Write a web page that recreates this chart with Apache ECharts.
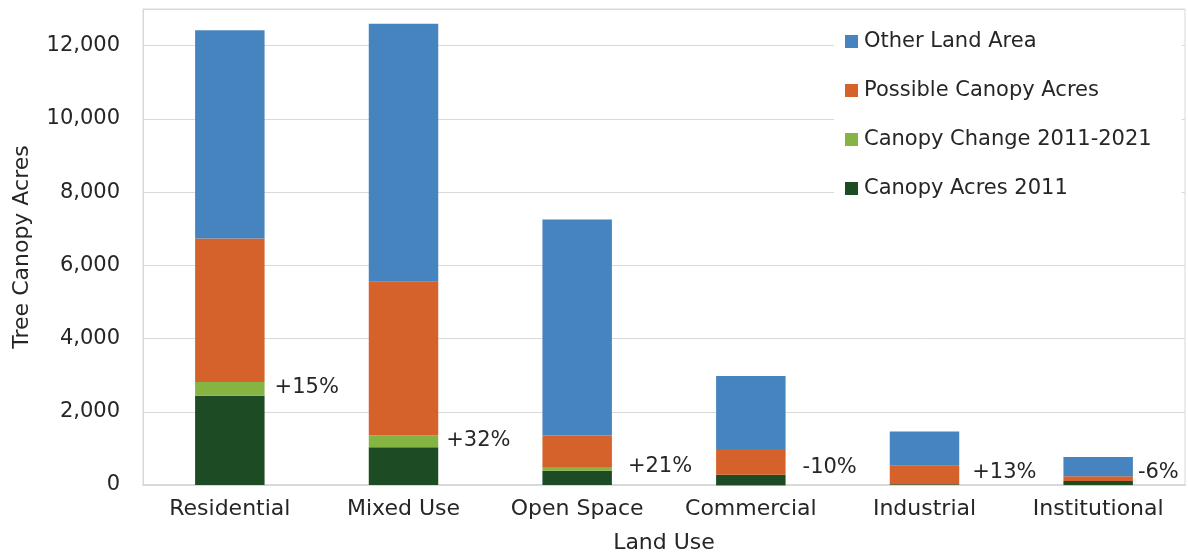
<!DOCTYPE html>
<html>
<head>
<meta charset="utf-8">
<script src="https://cdn.jsdelivr.net/npm/echarts@6/dist/echarts.min.js"></script>
<style>
  html, body { margin: 0; padding: 0; background: #fff; }
  #chart { width: 1188px; height: 555px; }
</style>
</head>
<body>
<div id="chart"></div>
<script>
// Land use categories
const landUses = ['Residential', 'Mixed Use', 'Open Space', 'Commercial', 'Industrial', 'Institutional'];

// Acres by land use (stacked from the bottom up)
const canopy2011 = [2440, 1030, 390, 280, 20, 110];
const canopyChange = [370, 330, 80, -28, 3, -7];
const possibleCanopy = [3920, 4190, 880, 700, 505, 130];
const otherLand = [5690, 7050, 5900, 2000, 930, 525];

// Percent change in canopy 2011-2021
const changePct = ['+15%', '+32%', '+21%', '-10%', '+13%', '-6%'];

// Y axis ticks
const yMin = 0, yMax = 13000, yStep = 2000;

// Nudges for the percent labels beside each bar [dx, dy]
const pctLabelNudge = [[5, -1], [3, -1], [11, -3], [12, -18], [8, -12], [0, -13]];

const FONT = 'DejaVu Sans';
const TEXT = '#262626';
const GRID = '#d9d9d9';

const chart = echarts.init(document.getElementById('chart'), null, { renderer: 'canvas' });

const barBase = {
  type: 'bar',
  stack: 'land',
  barWidth: '40%',
  emphasis: { disabled: true }
};

chart.setOption({
  animation: false,
  textStyle: { fontFamily: FONT, color: TEXT },
  grid: {
    left: 143, right: 3, top: 9, bottom: 70,
    containLabel: false,
    outerBoundsMode: 'none',
    show: true, borderColor: GRID, borderWidth: 1, backgroundColor: 'transparent'
  },
  legend: {
    orient: 'vertical',
    left: 834, top: 25,
    itemWidth: 13, itemHeight: 13, itemGap: 28,
    icon: 'rect',
    backgroundColor: '#fff',
    padding: [6, 30, 4, 11],
    textStyle: { fontFamily: FONT, fontSize: 21, color: TEXT, padding: [0, 0, 0, 1] },
    data: ['Other Land Area', 'Possible Canopy Acres', 'Canopy Change 2011-2021', 'Canopy Acres 2011']
  },
  xAxis: {
    type: 'category',
    data: landUses,
    name: 'Land Use',
    nameLocation: 'middle',
    nameGap: 47,
    nameTextStyle: { fontFamily: FONT, fontSize: 22, color: TEXT },
    axisLine: { lineStyle: { color: GRID, width: 2 } },
    axisTick: { show: false },
    axisLabel: { fontFamily: FONT, fontSize: 22, color: TEXT, margin: 13 }
  },
  yAxis: {
    type: 'value',
    min: yMin, max: yMax, interval: yStep,
    name: 'Tree Canopy Acres',
    nameLocation: 'middle',
    nameGap: 110,
    nameTextStyle: { fontFamily: FONT, fontSize: 22, color: TEXT },
    axisLine: { show: true, lineStyle: { color: GRID, width: 1 } },
    splitLine: { lineStyle: { color: GRID, width: 1 } },
    axisLabel: {
      fontFamily: FONT, fontSize: 21, color: TEXT, margin: 23,
      formatter: v => (v > 12000 ? '' : v.toLocaleString('en-US'))
    }
  },
  series: [
    Object.assign({}, barBase, {
      name: 'Canopy Acres 2011',
      data: canopy2011,
      itemStyle: { color: '#1c4b24' }
    }),
    Object.assign({}, barBase, {
      name: 'Canopy Change 2011-2021',
      data: canopyChange.map((v, i) => ({
        value: v,
        label: { offset: pctLabelNudge[i] }
      })),
      clip: false,
      itemStyle: { color: '#86b443' },
      label: {
        show: true,
        position: 'right',
        distance: 5,
        fontFamily: FONT,
        fontSize: 21,
        color: TEXT,
        formatter: p => changePct[p.dataIndex]
      }
    }),
    Object.assign({}, barBase, {
      name: 'Possible Canopy Acres',
      data: possibleCanopy,
      itemStyle: { color: '#d5612b' }
    }),
    Object.assign({}, barBase, {
      name: 'Other Land Area',
      data: otherLand,
      itemStyle: { color: '#4584be' }
    })
  ]
});
</script>
</body>
</html>
